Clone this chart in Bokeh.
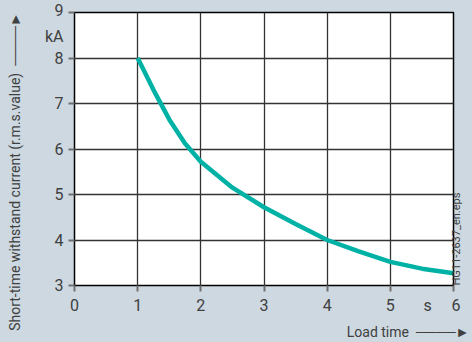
import math
from bokeh.plotting import figure
from bokeh.models import Range1d, FixedTicker, LinearAxis
from bokeh.embed import file_html
from bokeh.resources import INLINE

# ---- data ----
load_time = [1.0, 1.25, 1.5, 1.75, 2.0, 2.5, 3.0, 3.5, 4.0, 4.5, 5.0, 5.5, 6.0]
current_ka = [8.0, 7.3, 6.65, 6.12, 5.72, 5.15, 4.72, 4.35, 4.0, 3.75, 3.52, 3.37, 3.27]
x_ticks = [0, 1, 2, 3, 4, 5, 6]
y_ticks = [3, 4, 5, 6, 7, 8, 9]
y_title = "Short-time withstand current (r.m.s.value)"
x_title = "Load time"
y_unit = "kA"
x_unit = "s"
doc_id = "HG11-2637_en.eps"

BG = "#cdd8e0"
FONT = "Roboto"
TXT = "#404040"
NB = "\u00a0"
ARROW = "\u2500" * 4 + "\u25BA"

p = figure(width=472, height=342, output_backend="svg", toolbar_location=None,
           x_range=Range1d(0, 6), y_range=Range1d(3, 9),
           min_border_left=74, min_border_right=16, min_border_top=12, min_border_bottom=54)
p.background_fill_color = "white"
p.border_fill_color = BG
p.outline_line_color = "black"
p.outline_line_width = 1.5

for ax, ticks in ((p.xaxis[0], x_ticks), (p.yaxis[0], y_ticks)):
    ax.ticker = FixedTicker(ticks=ticks)
    ax.axis_line_color = None
    ax.major_tick_in = 0
    ax.major_tick_out = 6
    ax.major_tick_line_color = "#707070"
    ax.major_tick_line_width = 2
    ax.minor_tick_line_color = None
    ax.major_label_text_font = FONT
    ax.major_label_text_font_size = "16px"
    ax.major_label_text_color = TXT
    ax.axis_label_text_font = FONT
    ax.axis_label_text_font_style = "normal"
    ax.axis_label_text_color = TXT

xa = p.xaxis[0]
ya = p.yaxis[0]
xa.major_label_standoff = 4
ya.major_label_standoff = 5
ya.major_label_text_line_height = 1.4

# unit labels merged into the end tick labels
ya.major_label_overrides = {y_ticks[-1]: str(y_ticks[-1]) + "\n" + y_unit}
xa.major_label_overrides = {x_ticks[-1]: x_unit + NB * 5 + str(x_ticks[-1]) + NB * 3}

# axis titles with arrows (padding moves them along the axis)
ya.axis_label = y_title + NB * 2 + ARROW + NB * 13
ya.axis_label_text_font_size = "14px"
ya.axis_label_standoff = 19
xa.axis_label = NB * 83 + x_title + NB * 2 + ARROW
xa.axis_label_text_font_size = "14px"
xa.axis_label_standoff = 6

# right axis carrying the drawing id as a rotated label starting at the frame bottom
ra = LinearAxis(ticker=FixedTicker(ticks=[y_ticks[0]]), axis_line_color=None,
                major_tick_line_color=None, minor_tick_line_color=None,
                major_tick_out=0, major_tick_in=0, major_label_standoff=3,
                major_label_overrides={y_ticks[0]: doc_id},
                major_label_orientation=math.pi / 2,
                major_label_text_font=FONT, major_label_text_font_size="11px",
                major_label_text_color=TXT)
p.add_layout(ra, "right")

p.xgrid[0].ticker = FixedTicker(ticks=x_ticks)
p.ygrid[0].ticker = FixedTicker(ticks=y_ticks)
for g in (p.xgrid[0], p.ygrid[0]):
    g.grid_line_color = "#333333"
    g.grid_line_width = 1.3

p.line(load_time, current_ka, line_color="#00b2a5", line_width=4.5, line_join="round")

html = file_html(p, INLINE)
html = html.replace("</head>", "<style>body{background-color:%s;}</style></head>" % BG, 1)
open("out.html", "w").write(html)
